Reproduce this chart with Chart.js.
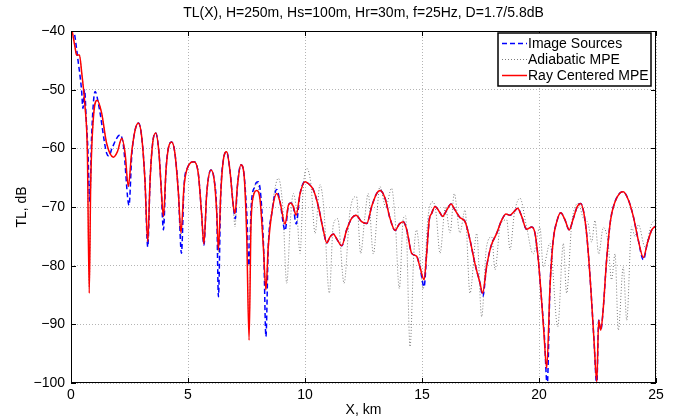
<!DOCTYPE html>
<html>
<head>
<meta charset="utf-8">
<script src="https://cdn.jsdelivr.net/npm/chart.js@4/dist/chart.umd.min.js"></script>
<style>
  html,body{margin:0;padding:0;background:#fff;}
  #wrap{width:677px;height:418px;position:relative;}
</style>
</head>
<body>
<div id="wrap"><canvas id="tl" width="677" height="418"></canvas></div>
<script>
// axis ticks
const xTicks = [0, 5, 10, 15, 20, 25];
const yTicks = [-100, -90, -80, -70, -60, -50, -40];

// Ray Centered MPE (red)
const kmRay = [0.05,0.17,0.24,0.36,0.46,0.6,0.7,0.78,0.84,0.95,1.12,1.31,1.52,1.81,1.98,2.17,2.31,2.45,2.59,2.74,2.88,3.02,3.16,3.28,3.38,3.49,3.62,3.76,3.85,3.95,4.06,4.16,4.3,4.44,4.59,4.7,4.83,4.97,5.26,5.44,5.58,5.68,5.8,5.98,6.12,6.23,6.3,6.4,6.51,6.65,6.79,6.94,7.01,7.11,7.26,7.39,7.51,7.61,7.69,7.79,7.94,8.08,8.22,8.33,8.43,8.58,8.79,8.93,9.15,9.29,9.39,9.5,9.62,9.79,10.0,10.14,10.36,10.57,10.78,10.93,11.07,11.21,11.38,11.57,11.78,12.0,12.18,12.42,12.64,12.85,13.06,13.21,13.42,13.63,13.85,14.03,14.2,14.35,14.56,14.77,14.91,15.09,15.2,15.31,15.41,15.56,15.74,15.88,16.06,16.24,16.41,16.62,16.84,17.05,17.26,17.48,17.59,17.76,17.94,18.19,18.41,18.59,18.76,18.93,19.09,19.26,19.47,19.69,19.83,19.97,20.12,20.21,20.33,20.47,20.61,20.76,20.93,21.11,21.29,21.47,21.64,21.78,21.92,22.06,22.21,22.35,22.47,22.55,22.64,22.73,22.89,23.06,23.25,23.46,23.6,23.82,24.03,24.24,24.46,24.63,24.82,25.0];
const tlRay = [-40,-42.7,-44.1,-44.1,-47.2,-52.9,-60.8,-84.7,-66.5,-55.2,-51.8,-54,-59.1,-61.5,-60.6,-58.3,-60.8,-66.5,-60.8,-56.9,-55.7,-58,-65.4,-75.9,-65.4,-59.1,-57.4,-60.8,-66.5,-71.6,-63.7,-60,-58.9,-60.8,-67.6,-74.4,-66.5,-63.4,-62.3,-64.3,-71.1,-76.3,-67.7,-63.7,-65.4,-71.1,-77.3,-67.7,-62,-60.6,-63.7,-69.9,-71.1,-66.5,-62.8,-64.3,-75.1,-92.7,-73.4,-68.2,-67.2,-68.8,-76.8,-84.1,-76.8,-71.1,-67.7,-69.1,-72.9,-69.7,-69.3,-69.9,-71.4,-67.7,-65.7,-66,-67.1,-69.9,-73.9,-76.1,-75.1,-74.6,-75.6,-76.6,-73.9,-71.9,-71.4,-72.5,-72.8,-69.9,-67.7,-67.2,-68.5,-71.9,-74,-72.9,-72.5,-73.9,-77.9,-78.4,-80.2,-82.4,-77.9,-72.2,-71.1,-69.9,-70.8,-71.6,-70.5,-69.5,-70.5,-71.8,-72.5,-75.6,-79.6,-83,-84.7,-80.2,-76.8,-74.5,-72.2,-71.2,-71.4,-70.8,-70.2,-71.6,-73.8,-73.4,-74.5,-79,-86.4,-91.5,-97.5,-83.6,-75.6,-72.5,-71,-72.2,-73.9,-71.9,-69.9,-69.4,-71.1,-75.6,-83.6,-92.7,-99.8,-89.3,-91,-88.1,-79,-72.2,-69.1,-67.6,-67.4,-68.8,-71.6,-75.6,-78.6,-76.2,-73.9,-73.2];

// Image Sources (blue dashed)
const kmImage = [0.05,0.17,0.3,0.45,0.51,0.58,0.65,0.72,0.8,0.88,1.03,1.2,1.52,1.62,1.76,2.1,2.24,2.48,2.6,2.74,2.88,3.02,3.16,3.28,3.38,3.49,3.62,3.76,3.85,3.95,4.06,4.16,4.3,4.44,4.59,4.72,4.83,4.97,5.26,5.44,5.58,5.68,5.8,5.98,6.12,6.23,6.3,6.4,6.51,6.65,6.79,6.94,7.02,7.11,7.26,7.39,7.51,7.61,7.7,7.85,8.0,8.12,8.24,8.33,8.43,8.58,8.79,8.93,9.15,9.29,9.39,9.5,9.62,9.79,10.0,10.14,10.36,10.57,10.78,10.93,11.07,11.21,11.38,11.57,11.78,12.0,12.18,12.42,12.64,12.85,13.06,13.21,13.42,13.63,13.85,14.03,14.2,14.35,14.56,14.77,14.91,15.09,15.2,15.31,15.41,15.56,15.74,15.88,16.06,16.24,16.41,16.62,16.84,17.05,17.26,17.48,17.6,17.76,17.94,18.19,18.41,18.59,18.76,18.93,19.09,19.26,19.47,19.69,19.83,19.97,20.12,20.23,20.35,20.47,20.61,20.76,20.93,21.11,21.29,21.47,21.64,21.78,21.92,22.06,22.21,22.35,22.47,22.55,22.64,22.73,22.89,23.06,23.25,23.46,23.6,23.82,24.03,24.24,24.46,24.63,24.82,25.0];
const tlImage = [-38,-41,-45,-50,-53.2,-50,-55,-60,-69,-58,-50.3,-53,-60.8,-61.3,-59.9,-57.7,-59.5,-69.7,-61,-56.9,-55.7,-58,-65.4,-76.8,-65.4,-59.1,-57.4,-60.8,-66.5,-73.9,-63.7,-60,-58.9,-60.8,-67.6,-77.9,-66.5,-63.4,-62.3,-64.3,-71.1,-76.5,-67.7,-63.7,-65.4,-71.1,-85.3,-67.7,-62,-60.6,-63.7,-69.9,-72,-66.5,-62.8,-64.3,-71,-80,-70,-66.5,-65.7,-68.5,-78,-92.1,-76.8,-71.1,-67,-69.1,-74,-69.7,-69.3,-69.9,-72.9,-67.7,-65.7,-66,-67.1,-69.9,-73.9,-76.1,-75.1,-74.6,-75.6,-76.6,-73.9,-71.9,-71.4,-72.5,-72.8,-69.9,-67.7,-67.2,-68.5,-71.9,-74,-72.9,-72.5,-73.9,-77.9,-78.4,-80.2,-83.6,-77.9,-72.2,-71.1,-69.9,-70.8,-71.6,-70.5,-69.5,-70.5,-71.8,-72.5,-75.6,-79.6,-83,-85.2,-80.2,-76.8,-74.5,-72.2,-71.2,-71.4,-70.8,-70.2,-71.6,-73.8,-73.4,-74.5,-79,-86.4,-92,-100.5,-83.6,-75.6,-72.5,-71,-72.2,-73.9,-71.9,-69.9,-69.4,-71.1,-75.6,-83.6,-92.7,-100.5,-89.3,-91,-88.1,-79,-72.2,-69.1,-67.6,-67.4,-68.8,-71.6,-75.6,-79,-76.2,-73.9,-73.2];

// Adiabatic MPE (grey dotted)
const kmAdiab = [0.05,0.17,0.24,0.36,0.46,0.6,0.7,0.78,0.84,0.95,1.12,1.31,1.52,1.81,1.98,2.17,2.31,2.45,2.59,2.74,2.88,3.02,3.16,3.28,3.38,3.49,3.62,3.76,3.85,3.95,4.06,4.16,4.3,4.44,4.59,4.7,4.83,4.97,5.26,5.44,5.58,5.68,5.8,5.98,6.12,6.23,6.3,6.4,6.51,6.65,6.79,6.94,7.01,7.11,7.26,7.39,7.51,7.61,7.69,7.79,7.94,8.08,8.22,8.33,8.43,8.6,8.86,9.05,9.22,9.38,9.5,9.65,9.79,9.92,10.07,10.25,10.43,10.64,10.8,11.04,11.21,11.4,11.67,11.92,12.2,12.38,12.55,12.7,12.92,13.2,13.45,13.7,13.85,14.03,14.2,14.3,14.49,14.65,14.77,14.9,15.05,15.25,15.47,15.6,15.77,16.0,16.2,16.38,16.62,16.84,17.05,17.34,17.55,17.75,17.98,18.12,18.35,18.62,18.76,18.95,19.19,19.45,19.75,20.04,20.18,20.47,20.8,21.04,21.18,21.4,21.68,21.9,22.1,22.25,22.39,22.55,22.75,22.95,23.1,23.25,23.39,23.6,23.75,23.96,24.1,24.25,24.53,24.8,25.0];
const tlAdiab = [-40,-42.7,-44.1,-44.1,-47.2,-52.9,-60.8,-84,-66.5,-55.2,-51.8,-54,-59.1,-61.5,-60.6,-58.3,-60.8,-66.5,-60.8,-56.9,-55.7,-58,-65.4,-76.5,-65.4,-59.1,-57.4,-60.8,-66.5,-72,-63.7,-60,-58.9,-60.8,-67.6,-75,-66.5,-63.4,-62.3,-64.3,-71.1,-76.3,-67.7,-63.7,-65.4,-71.1,-78,-67.7,-62,-60.6,-63.7,-70.5,-73.4,-66.5,-62.8,-64.3,-75.1,-90,-73.4,-68.2,-65.7,-68.8,-76.8,-84,-76.8,-70,-65.1,-70,-83,-72,-67.7,-71,-77.9,-67,-63.4,-66,-74.5,-66.2,-70,-84.7,-73,-72,-83,-70.8,-68.2,-77.9,-72,-67.7,-78,-66.5,-70,-66.8,-72,-83.9,-72,-71.5,-93.8,-78,-73.9,-78,-84,-72,-69.1,-71,-77.9,-70,-74.4,-67.7,-74.4,-70.5,-84.7,-74.5,-88.7,-77,-75.1,-80.7,-73,-72.2,-77.3,-71,-68.5,-73,-78,-73.4,-80.2,-76.2,-90.4,-76.2,-84.7,-72.8,-69.4,-72,-72.8,-76,-72.3,-78,-73.5,-76,-82.4,-78,-91,-80.2,-89.3,-73.4,-75,-73,-76.8,-73,-72];

const seriesNames = ['Image Sources', 'Adiabatic MPE', 'Ray Centered MPE'];
const titleText = 'TL(X), H=250m, Hs=100m, Hr=30m, f=25Hz, D=1.7/5.8dB';
const FONT = '"Liberation Sans", Arial, Helvetica, sans-serif';

const pts = (xs, ys) => xs.map((x, i) => ({x, y: ys[i]}));
const minus = v => v < 0 ? '\u2212' + Math.abs(v) : String(v);

// frame, inward ticks, titles and legend (matlab look)
const matlabBits = {
  id: 'matlabBits',
  afterDatasetsDraw(chart){
    const {ctx, chartArea: a, scales:{x, y}} = chart;
    ctx.save();
    ctx.strokeStyle = '#000';
    ctx.lineWidth = 1;
    ctx.strokeRect(a.left + 0.5, a.top + 0.5, a.right - a.left - 1, a.bottom - a.top - 1);
    ctx.beginPath();
    xTicks.forEach(t => {
      const px = Math.round(x.getPixelForValue(t)) + 0.5;
      ctx.moveTo(px, a.bottom); ctx.lineTo(px, a.bottom - 5);
      ctx.moveTo(px, a.top); ctx.lineTo(px, a.top + 5);
    });
    yTicks.forEach(t => {
      const py = Math.round(y.getPixelForValue(t)) + 0.5;
      ctx.moveTo(a.left, py); ctx.lineTo(a.left + 5, py);
      ctx.moveTo(a.right, py); ctx.lineTo(a.right - 5, py);
    });
    ctx.stroke();

    // titles
    ctx.fillStyle = '#000';
    ctx.font = '14px ' + FONT;
    ctx.textAlign = 'center';
    ctx.textBaseline = 'middle';
    ctx.fillText(titleText, (a.left + a.right) / 2, 13);
    ctx.fillText('X, km', (a.left + a.right) / 2, 410);
    ctx.save();
    ctx.translate(22, (a.top + a.bottom) / 2);
    ctx.rotate(-Math.PI / 2);
    ctx.fillText('TL, dB', 0, 0);
    ctx.restore();

    // legend box
    const lx = 498, ly = 33, lw = 153, lh = 53;
    ctx.fillStyle = '#fff';
    ctx.fillRect(lx, ly, lw, lh);
    ctx.lineWidth = 1.5;
    ctx.strokeRect(lx, ly, lw, lh);
    chart.data.datasets.forEach((ds, i) => {
      const yy = ly + 10.5 + i * 16;
      ctx.beginPath();
      ctx.strokeStyle = ds.borderColor;
      ctx.lineWidth = ds.borderWidth;
      ctx.setLineDash(ds.borderDash || []);
      ctx.moveTo(lx + 4, yy); ctx.lineTo(lx + 29, yy);
      ctx.stroke();
      ctx.setLineDash([]);
      ctx.fillStyle = '#000';
      ctx.font = '14px ' + FONT;
      ctx.textAlign = 'left';
      ctx.fillText(ds.label, lx + 30, yy + 0.5);
    });
    ctx.restore();
  }
};

new Chart(document.getElementById('tl'), {
  type: 'line',
  data: {
    datasets: [
      {label: seriesNames[0], data: pts(kmImage, tlImage), borderColor: '#0000ff', borderWidth: 1.5, borderDash: [5, 3], cubicInterpolationMode: 'monotone', pointRadius: 0, order: 2},
      {label: seriesNames[1], data: pts(kmAdiab, tlAdiab), borderColor: '#7a7a7a', borderWidth: 1, borderDash: [1, 2], cubicInterpolationMode: 'monotone', pointRadius: 0, order: 3},
      {label: seriesNames[2], data: pts(kmRay, tlRay), borderColor: '#ff0000', borderWidth: 1.5, cubicInterpolationMode: 'monotone', pointRadius: 0, order: 1}
    ]
  },
  options: {
    responsive: false,
    animation: false,
    layout: {padding: {top: 31, right: 21, left: 0, bottom: 0}},
    plugins: {legend: {display: false}, title: {display: false}, tooltip: {enabled: false}},
    scales: {
      x: {
        type: 'linear', min: 0, max: 25,
        afterFit: s => { s.height = 35; },
        afterBuildTicks: s => { s.ticks = xTicks.map(v => ({value: v})); },
        ticks: {color: '#000', font: {family: FONT, size: 14}, padding: 4, maxRotation: 0},
        grid: {color: '#b4b4b4', drawTicks: false},
        border: {display: false, dash: [1, 2]}
      },
      y: {
        type: 'linear', min: -100, max: -40,
        afterFit: s => { s.width = 71; },
        afterBuildTicks: s => { s.ticks = yTicks.map(v => ({value: v})); },
        ticks: {color: '#000', font: {family: FONT, size: 14}, padding: 6, callback: minus},
        grid: {color: '#b4b4b4', drawTicks: false},
        border: {display: false, dash: [1, 2]}
      }
    }
  },
  plugins: [matlabBits]
});
</script>
</body>
</html>
